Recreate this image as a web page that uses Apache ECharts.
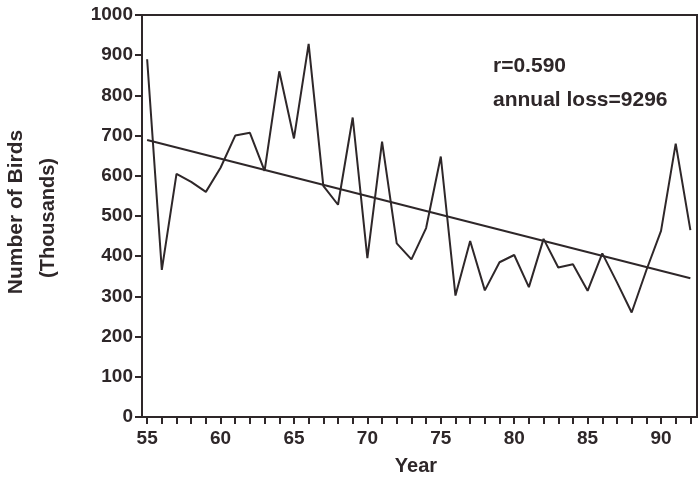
<!DOCTYPE html>
<html>
<head>
<meta charset="utf-8">
<script src="https://cdn.jsdelivr.net/npm/echarts@6/dist/echarts.min.js"></script>
<style>html,body{margin:0;padding:0;background:#fff;}#c{width:700px;height:478px;}</style>
</head>
<body>
<div id="c"></div>
<script>
const years = [55,56,57,58,59,60,61,62,63,64,65,66,67,68,69,70,71,72,73,74,75,76,77,78,79,80,81,82,83,84,85,86,87,88,89,90,91,92];
const birds = [890,366,605,585,560,620,700,707,612,860,693,928,575,528,745,395,685,432,392,470,648,302,438,315,385,403,323,443,372,380,314,407,335,260,365,463,680,465];
const trendYears = [55,92];
const trendValues = [689,345];
const xLabelValues = [55,60,65,70,75,80,85,90];
const xTickValues = years;
const yTitle1 = 'Number of Birds';
const yTitle2 = '(Thousands)';
const xTitle = 'Year';
const note1 = 'r=0.590';
const note2 = 'annual loss=9296';

const ink = '#2e2729';
const font = 'Liberation Sans, Arial, Helvetica, sans-serif';
const chart = echarts.init(document.getElementById('c'), null, {renderer:'canvas'});
chart.setOption({
  backgroundColor:'#fff',
  animation:false,
  grid:{left:142,right:3,top:15,bottom:61,show:true,borderColor:ink,borderWidth:2,backgroundColor:'transparent'},
  xAxis:{type:'value',min:54.65,max:92.45,
    axisLine:{show:true,lineStyle:{color:ink,width:2}},
    axisTick:{show:true,customValues:xTickValues,length:7,lineStyle:{color:ink,width:2}},
    axisLabel:{customValues:xLabelValues,color:ink,fontSize:19,fontWeight:'bold',fontFamily:font,margin:12},
    splitLine:{show:false}},
  yAxis:{type:'value',min:0,max:1000,interval:100,
    axisLine:{show:true,lineStyle:{color:ink,width:2}},
    axisTick:{show:true,length:7,lineStyle:{color:ink,width:2}},
    axisLabel:{color:ink,fontSize:19,fontWeight:'bold',fontFamily:font,margin:9,formatter:v=>String(v)},
    splitLine:{show:false}},
  series:[
    {type:'line',data:years.map((y,i)=>[y,birds[i]]),showSymbol:false,symbol:'none',lineStyle:{color:ink,width:2},z:3},
    {type:'line',data:trendYears.map((y,i)=>[y,trendValues[i]]),showSymbol:false,symbol:'none',lineStyle:{color:ink,width:2},z:2}
  ],
  graphic:[
    {type:'text',left:493,top:56,style:{text:note1,font:'bold 21px '+font,fill:ink}},
    {type:'text',left:493,top:90,style:{text:note2,font:'bold 21px '+font,fill:ink}},
    {type:'text',x:416,y:466,style:{text:xTitle,font:'bold 20px '+font,fill:ink,align:'center',verticalAlign:'middle'}},
    {type:'text',x:16,y:212,rotation:Math.PI/2,style:{text:yTitle1,font:'bold 21px '+font,fill:ink,align:'center',verticalAlign:'middle'}},
    {type:'text',x:48,y:218,rotation:Math.PI/2,style:{text:yTitle2,font:'bold 20px '+font,fill:ink,align:'center',verticalAlign:'middle'}}
  ]
});
</script>
</body>
</html>
